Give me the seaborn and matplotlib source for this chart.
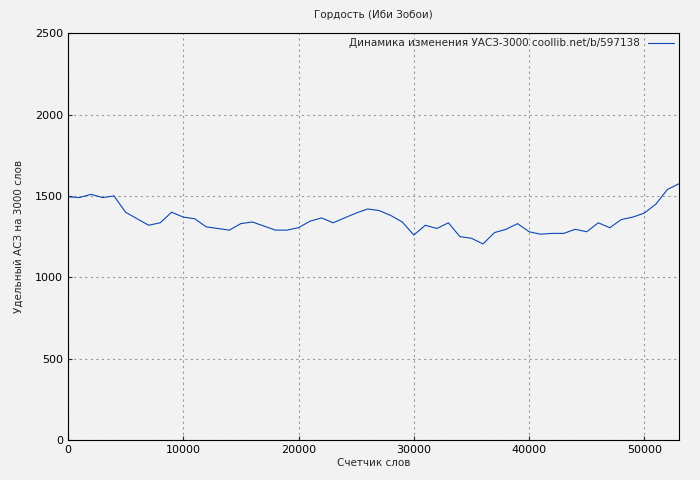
import numpy as np
import seaborn as sns
import matplotlib.pyplot as plt

words = list(range(0, 54000, 1000))
uasz = [1495, 1490, 1510, 1490, 1500, 1400, 1360, 1320, 1335, 1400,
        1370, 1360, 1310, 1300, 1290, 1330, 1340, 1315, 1290, 1290,
        1305, 1345, 1365, 1335, 1365, 1395, 1420, 1410, 1380, 1340,
        1260, 1320, 1300, 1335, 1250, 1240, 1205, 1275, 1295, 1330,
        1280, 1265, 1270, 1270, 1295, 1280, 1335, 1305, 1355, 1370,
        1395, 1450, 1540, 1575]

sns.set_style("white")
plt.rcParams['font.family'] = ['DejaVu Sans']

fig, ax = plt.subplots(figsize=(7, 4.8), dpi=100)
fig.patch.set_facecolor("#f2f2f2")
ax.set_facecolor("#f2f2f2")
sns.lineplot(x=words, y=uasz, ax=ax, color="#0a47b5", linewidth=0.8,
             label="Динамика изменения УАСЗ-3000 coollib.net/b/597138")
ax.set_xlim(0, 53000)
ax.set_ylim(0, 2500)
ax.set_xticks([0, 10000, 20000, 30000, 40000, 50000])
ax.set_yticks([0, 500, 1000, 1500, 2000, 2500])
ax.grid(True, color="#999999", linestyle=(0, (2, 3)), linewidth=0.8)
for s in ax.spines.values():
    s.set_color("black")
ax.tick_params(labelsize=8, length=3, direction="in", left=True, bottom=True)
ax.set_title("Гордость (Иби Зобои)", fontsize=7.5, pad=11)
ax.set_xlabel("Счетчик слов", fontsize=7.5, labelpad=2)
ax.set_ylabel("Удельный АСЗ на 3000 слов", fontsize=7.5, labelpad=8)
for t in ax.get_xticklabels() + ax.get_yticklabels():
    t.set_color("black")
leg = ax.legend(loc="upper right", fontsize=7.5, frameon=False, markerfirst=False,
                borderaxespad=0.1, handlelength=2.5)
plt.subplots_adjust(left=0.097, right=0.97, top=0.931, bottom=0.083)
plt.savefig("out.png")
